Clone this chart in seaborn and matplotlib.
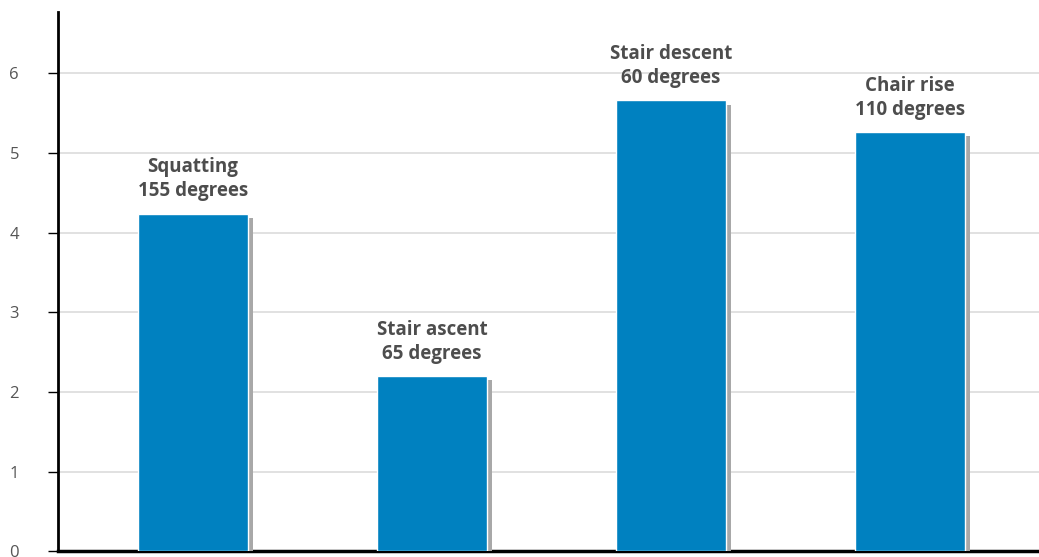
import pandas as pd
import matplotlib.pyplot as plt
import matplotlib.patheffects as pe
import seaborn as sns

# values
activities = ["Squatting", "Stair ascent", "Stair descent", "Chair rise"]
angles = ["155 degrees", "65 degrees", "60 degrees", "110 degrees"]
heights = [4.24, 2.20, 5.66, 5.26]
yticks = [0, 1, 2, 3, 4, 5, 6]

df = pd.DataFrame({"activity": activities, "value": heights, "angle": angles})

sns.set_theme(style="white")
plt.rcParams["font.family"] = ["Open Sans", "DejaVu Sans"]

fig = plt.figure(figsize=(10.39, 5.57), dpi=100)
ax = fig.add_axes([0.0558, 0.0099, 0.9442, 0.9686])

sns.barplot(data=df, x="activity", y="value", color="#0081c0", saturation=1,
            width=0.46, ax=ax, zorder=3)

# grey drop shadow on the bars
for bar in ax.patches:
    bar.set_path_effects([pe.SimplePatchShadow(offset=(3.8, -3), shadow_rgbFace="#a8a8a8", alpha=1),
                          pe.Normal()])

# two-line labels above each bar
for i, row in df.iterrows():
    ax.annotate(f"{row['activity']}\n{row['angle']}", (i, row["value"]),
                xytext=(0, 9), textcoords="offset points", ha="center", va="bottom",
                fontsize=13.5, fontweight="bold", color="#4d4d4d", linespacing=1.25)

ax.set_xlim(-0.565, 3.54)
ax.set_ylim(0, 6.77)
ax.set_yticks(yticks)
ax.set_xticks([])
ax.set_xlabel("")
ax.set_ylabel("")
ax.yaxis.grid(True, color="#dcdcdc", linewidth=1.2, zorder=0)
ax.set_axisbelow(True)
ax.tick_params(axis="y", left=True, length=7, width=1, color="black", pad=21,
               labelsize=12, labelcolor="#555555")
for s in ["top", "right"]:
    ax.spines[s].set_visible(False)
ax.spines["left"].set_color("black")
ax.spines["bottom"].set_color("black")
ax.spines["left"].set_linewidth(2)
ax.spines["bottom"].set_linewidth(2.5)

fig.savefig("out.png", dpi=100)
